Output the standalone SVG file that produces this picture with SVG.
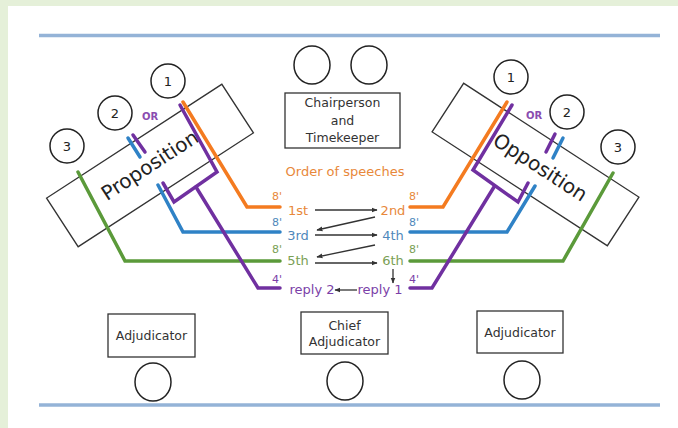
<svg xmlns="http://www.w3.org/2000/svg" width="678" height="428" viewBox="0 0 678 428">
<defs>
<style>
.bg{fill:#e5f0d9}
.panel{fill:#ffffff}
.rule{stroke:#94b3d7;stroke-width:3.5}
.box{fill:#ffffff;stroke:#333;stroke-width:1.3}
.seat{fill:#ffffff;stroke:#222;stroke-width:1.5}
.lbl{font-family:"DejaVu Sans",Verdana,sans-serif;font-size:12.5px;fill:#333;text-anchor:middle}
.num{font-family:"DejaVu Sans",Verdana,sans-serif;font-size:13px;fill:#222;text-anchor:middle}
.team{font-family:"DejaVu Sans",Verdana,sans-serif;font-size:20px;fill:#222;text-anchor:middle}
.sp{font-family:"DejaVu Sans",Verdana,sans-serif;font-size:13px;text-anchor:middle}
.tm{font-family:"DejaVu Sans",Verdana,sans-serif;font-size:11px;text-anchor:middle}
.or{font-family:"DejaVu Sans",Verdana,sans-serif;font-size:10px;font-weight:bold;fill:#8a4cb0;text-anchor:middle}
.ln{fill:none;stroke-width:3.5;stroke-linejoin:miter;stroke-linecap:round}
.o{stroke:#f47b20}.b{stroke:#2f82c6}.g{stroke:#5b9a3a}.p{stroke:#7030a0}
.to{fill:#e8883a}.tb{fill:#4f88bb}.tg{fill:#7aa055}.tp{fill:#7b3fa8}
.arr{fill:none;stroke:#333;stroke-width:1.3;marker-end:url(#ah)}
</style>
<marker id="ah" viewBox="0 0 10 10" refX="9" refY="5" markerWidth="6" markerHeight="6" orient="auto" markerUnits="userSpaceOnUse">
<path d="M0,1 L10,5 L0,9 z" fill="#333"/>
</marker>
</defs>
<rect class="bg" x="0" y="0" width="678" height="428"/>
<rect class="panel" x="8" y="6" width="670" height="422"/>
<line class="rule" x1="39" y1="35.5" x2="660" y2="35.5"/>
<line class="rule" x1="39" y1="405" x2="660" y2="405"/>

<g id="chair">
<ellipse class="seat" cx="312" cy="65" rx="18" ry="19"/>
<ellipse class="seat" cx="369" cy="65" rx="18" ry="19"/>
<rect class="box" x="285" y="93" width="115" height="55"/>
<text class="lbl" x="342.5" y="107">Chairperson</text>
<text class="lbl" x="342.5" y="125">and</text>
<text class="lbl" x="342.5" y="142">Timekeeper</text>
</g>

<g id="proposition">
<rect class="box" x="45.5" y="136.5" width="209" height="58" transform="rotate(-33 150 165.5)"/>
<text class="team" x="150" y="172" transform="rotate(-33 150 165.5)">Proposition</text>
<circle class="seat" cx="168" cy="81" r="17"/><text class="num" x="168" y="86">1</text>
<circle class="seat" cx="115" cy="113" r="17"/><text class="num" x="115" y="118">2</text>
<circle class="seat" cx="67" cy="146" r="17"/><text class="num" x="67" y="151">3</text>
<text class="or" x="150" y="120">OR</text>
</g>

<g id="opposition">
<rect class="box" x="431" y="135.5" width="209" height="58" transform="rotate(33 535.5 164.5)"/>
<text class="team" x="541" y="171" transform="rotate(33 535.5 164.5)">Opposition</text>
<circle class="seat" cx="511" cy="77" r="17"/><text class="num" x="511" y="82">1</text>
<circle class="seat" cx="567" cy="112" r="17"/><text class="num" x="567" y="117">2</text>
<circle class="seat" cx="618" cy="147" r="17"/><text class="num" x="618" y="152">3</text>
<text class="or" x="534" y="119">OR</text>
</g>

<g id="connectors">
<polyline class="ln o" points="183,102 247,207 280,207"/>
<polyline class="ln b" points="158,185 183,232 280,232"/>
<polyline class="ln g" points="78,172 125,261 280,261"/>
<polyline class="ln p" points="180,105 217,172 174,202 163,183"/>
<polyline class="ln p" points="196,187 258,288 280,288"/>
<line class="ln p" x1="133" y1="135" x2="145" y2="152"/>
<line class="ln b" x1="128" y1="138" x2="140" y2="157"/>

<polyline class="ln o" points="507,102 443,207 410,207"/>
<polyline class="ln b" points="535,186 507,232 410,232"/>
<polyline class="ln g" points="613,173 563,261 410,261"/>
<polyline class="ln p" points="512,105 473,170 518,202 528,183"/>
<polyline class="ln p" points="494,187 432,288 410,288"/>
<line class="ln p" x1="555" y1="134" x2="546" y2="152"/>
<line class="ln b" x1="563" y1="138" x2="553" y2="158"/>

<line class="arr" x1="315" y1="210" x2="377" y2="210"/>
<line class="arr" x1="375" y1="217" x2="317" y2="230"/>
<line class="arr" x1="315" y1="235" x2="377" y2="235"/>
<line class="arr" x1="375" y1="245" x2="317" y2="257"/>
<line class="arr" x1="315" y1="263" x2="377" y2="263"/>
<line class="arr" x1="393" y1="269" x2="393" y2="283"/>
<line class="arr" x1="357" y1="290" x2="335" y2="290"/>
</g>

<g id="speeches">
<text class="sp to" x="345" y="176">Order of speeches</text>
<text class="sp to" x="298" y="215">1st</text>
<text class="sp to" x="393" y="215">2nd</text>
<text class="sp tb" x="298" y="240">3rd</text>
<text class="sp tb" x="393" y="240">4th</text>
<text class="sp tg" x="298" y="265">5th</text>
<text class="sp tg" x="393" y="265">6th</text>
<text class="sp tp" x="312" y="294">reply 2</text>
<text class="sp tp" x="380" y="294">reply 1</text>
<text class="tm to" x="277" y="200">8'</text>
<text class="tm to" x="414" y="200">8'</text>
<text class="tm tb" x="277" y="226">8'</text>
<text class="tm tb" x="414" y="226">8'</text>
<text class="tm tg" x="277" y="253">8'</text>
<text class="tm tg" x="414" y="253">8'</text>
<text class="tm tp" x="277" y="283">4'</text>
<text class="tm tp" x="414" y="283">4'</text>
</g>

<g id="adjudicator-left">
<rect class="box" x="108" y="314" width="87" height="43"/>
<text class="lbl" x="151.5" y="340">Adjudicator</text>
<ellipse class="seat" cx="153" cy="382" rx="18" ry="19"/>
</g>
<g id="chief-adjudicator">
<rect class="box" x="301" y="312" width="87" height="42"/>
<text class="lbl" x="344.5" y="330">Chief</text>
<text class="lbl" x="344.5" y="346">Adjudicator</text>
<ellipse class="seat" cx="345" cy="381" rx="18" ry="19"/>
</g>
<g id="adjudicator-right">
<rect class="box" x="477" y="311" width="86" height="42"/>
<text class="lbl" x="520" y="337">Adjudicator</text>
<ellipse class="seat" cx="522" cy="380" rx="18" ry="19"/>
</g>
</svg>
